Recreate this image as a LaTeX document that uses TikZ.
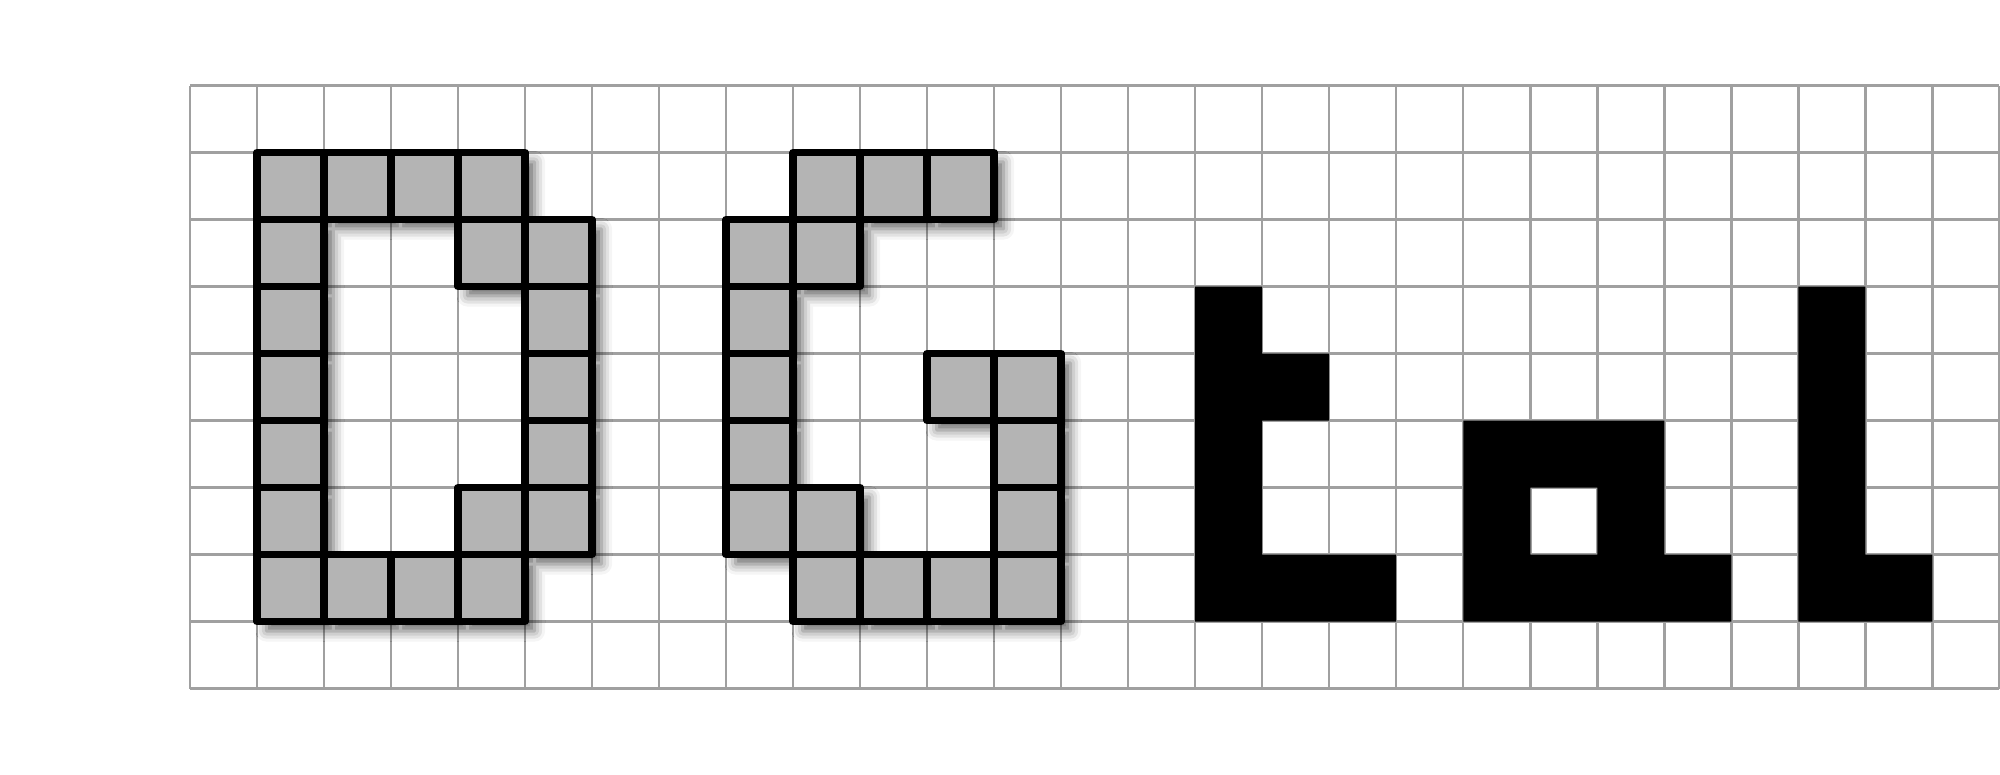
\documentclass[tikz,border=0pt]{standalone}
\usepackage{tikz}
\usetikzlibrary{shadows.blur}
\definecolor{gridgray}{RGB}{160,160,160}
\definecolor{cellgray}{RGB}{180,180,180}
\tikzset{
  gridline/.style={draw=gridgray, line width=1.05pt},
  pixcell/.style={fill=cellgray, draw=black, line width=3.2pt, line join=round},
  pixshadow/.style={fill=cellgray, blur shadow={shadow xshift=4pt, shadow yshift=-4pt, shadow blur radius=4.5pt, shadow opacity=60}},
  inkcell/.style={fill=black},
}
\begin{document}
\begin{tikzpicture}
      \useasboundingbox (-2.836,1.276) rectangle (27.01,-10.276);
      \draw[gridline] (0,0) grid (27,-9);

      \path[pixshadow] foreach \c/\r in {1/1,2/1,3/1,4/1,1/2,4/2,5/2,1/3,5/3,1/4,5/4,1/5,5/5,1/6,4/6,5/6,1/7,2/7,3/7,4/7}
        {(\c,-\r) rectangle ++(1,-1)};
      \foreach \c/\r in {1/1,2/1,3/1,4/1,1/2,4/2,5/2,1/3,5/3,1/4,5/4,1/5,5/5,1/6,4/6,5/6,1/7,2/7,3/7,4/7}
        \draw[pixcell] (\c,-\r) rectangle ++(1,-1);

      \path[pixshadow] foreach \c/\r in {9/1,10/1,11/1,8/2,9/2,8/3,8/4,11/4,12/4,8/5,12/5,8/6,9/6,12/6,9/7,10/7,11/7,12/7}
        {(\c,-\r) rectangle ++(1,-1)};
      \foreach \c/\r in {9/1,10/1,11/1,8/2,9/2,8/3,8/4,11/4,12/4,8/5,12/5,8/6,9/6,12/6,9/7,10/7,11/7,12/7}
        \draw[pixcell] (\c,-\r) rectangle ++(1,-1);

      \fill[inkcell] foreach \c/\r in {15/3,15/4,16/4,15/5,15/6,15/7,16/7,17/7}
        {(\c,-\r) rectangle ++(1,-1)};
      \fill[inkcell] foreach \c/\r in {19/5,20/5,21/5,19/6,21/6,19/7,20/7,21/7,22/7}
        {(\c,-\r) rectangle ++(1,-1)};
      \fill[inkcell] foreach \c/\r in {24/3,24/4,24/5,24/6,24/7,25/7}
        {(\c,-\r) rectangle ++(1,-1)};
\end{tikzpicture}
\end{document}
